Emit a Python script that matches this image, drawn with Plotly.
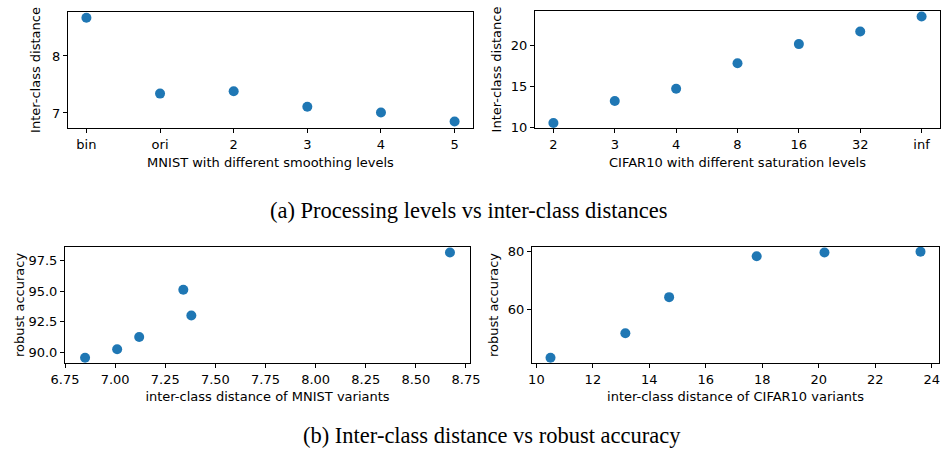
import plotly.graph_objects as go

# Data
mnist_levels = ["bin", "ori", "2", "3", "4", "5"]
mnist_dist = [8.67, 7.34, 7.38, 7.11, 7.01, 6.85]
cifar_levels = ["2", "3", "4", "8", "16", "32", "inf"]
cifar_dist = [10.5, 13.2, 14.7, 17.85, 20.2, 21.75, 23.6]

mnist_var_dist = [6.85, 7.01, 7.12, 7.34, 7.38, 8.67]
mnist_robust = [89.55, 90.25, 91.25, 95.1, 93.0, 98.15]
cifar_var_dist = [10.5, 13.15, 14.7, 17.8, 20.2, 23.6]
cifar_robust = [43.4, 51.8, 64.2, 78.2, 79.5, 79.8]

W, H = 942, 455
BLUE = "#1f77b4"
FONT = dict(family="DejaVu Sans", size=13, color="black")


def px_x(a, b):
    return [a / W, b / W]


def px_y(top, bottom):
    return [1 - bottom / H, 1 - top / H]


fig = go.Figure()
marker = dict(color=BLUE, size=10, line=dict(width=0))
fig.add_trace(go.Scatter(x=mnist_levels, y=mnist_dist, mode="markers", marker=marker, xaxis="x", yaxis="y"))
fig.add_trace(go.Scatter(x=cifar_levels, y=cifar_dist, mode="markers", marker=marker, xaxis="x2", yaxis="y2"))
fig.add_trace(go.Scatter(x=mnist_var_dist, y=mnist_robust, mode="markers", marker=marker, xaxis="x3", yaxis="y3"))
fig.add_trace(go.Scatter(x=cifar_var_dist, y=cifar_robust, mode="markers", marker=marker, xaxis="x4", yaxis="y4"))

axis_common = dict(showline=True, linecolor="black", linewidth=1, mirror=True, ticks="outside",
                   ticklen=4, tickcolor="black", showgrid=False, zeroline=False, automargin=False,
                   tickfont=FONT, title_font=FONT)

fig.update_layout(
    width=W, height=H, showlegend=False,
    margin=dict(l=0, r=0, t=0, b=0),
    paper_bgcolor="white", plot_bgcolor="white",
    font=FONT,
    xaxis=dict(axis_common, domain=px_x(68, 473), anchor="y", type="category",
               range=[-0.25, 5.25], title=dict(text="MNIST with different smoothing levels", standoff=7)),
    yaxis=dict(axis_common, domain=px_y(12, 128), anchor="x", range=[6.737, 8.77],
               tickvals=[7, 8], title=dict(text="Inter-class distance", standoff=8)),
    xaxis2=dict(axis_common, domain=px_x(535, 940), anchor="y2", type="category",
                range=[-0.3, 6.3], title=dict(text="CIFAR10 with different saturation levels", standoff=7)),
    yaxis2=dict(axis_common, domain=px_y(11, 128), anchor="x2", range=[9.88, 24.27],
                tickvals=[10, 15, 20], title=dict(text="Inter-class distance", standoff=6)),
    xaxis3=dict(axis_common, domain=px_x(65, 470), anchor="y3", range=[6.7499, 8.77],
                tickvals=[6.75, 7.0, 7.25, 7.5, 7.75, 8.0, 8.25, 8.5, 8.75], tickformat=".2f",
                title=dict(text="inter-class distance of MNIST variants", standoff=6)),
    yaxis3=dict(axis_common, domain=px_y(247, 363), anchor="x3", range=[89.12, 98.6],
                tickvals=[90, 92.5, 95, 97.5], tickformat=".1f",
                title=dict(text="robust accuracy", standoff=0)),
    xaxis4=dict(axis_common, domain=px_x(532, 939), anchor="y4", range=[9.845, 24.255],
                tickvals=[10, 12, 14, 16, 18, 20, 22, 24],
                title=dict(text="inter-class distance of CIFAR10 variants", standoff=6)),
    yaxis4=dict(axis_common, domain=px_y(247, 363), anchor="x4", range=[41.6, 81.4],
                tickvals=[60, 80], title=dict(text="robust accuracy", standoff=6)),
    annotations=[
        dict(text="(a) Processing levels vs inter-class distances", x=469 / W, y=1 - 210 / H,
             xref="paper", yref="paper", showarrow=False, xanchor="center", yanchor="middle",
             font=dict(family="Liberation Serif", size=22.5, color="black")),
        dict(text="(b) Inter-class distance vs robust accuracy", x=492 / W, y=1 - 435 / H,
             xref="paper", yref="paper", showarrow=False, xanchor="center", yanchor="middle",
             font=dict(family="Liberation Serif", size=22.5, color="black")),
    ],
)

fig.write_html("out.html", config={"displayModeBar": False},
               post_script="document.body.style.margin='0';document.body.style.overflow='hidden';")
